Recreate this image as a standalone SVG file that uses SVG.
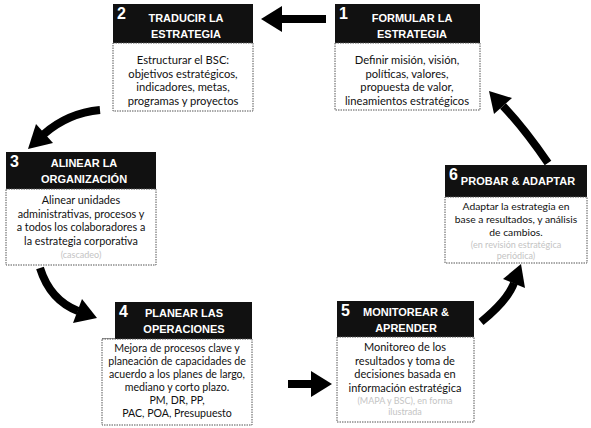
<svg xmlns="http://www.w3.org/2000/svg" width="591" height="428" viewBox="0 0 591 428">
<style>
.hdr{fill:#111;}
.body{fill:#fff;stroke:#555;stroke-width:1;stroke-dasharray:1.5,1;}
.ht{font-family:"Liberation Sans",Arial,sans-serif;font-weight:bold;font-size:11px;fill:#fff;text-anchor:middle;}
.num{font-family:"Liberation Sans",Arial,sans-serif;font-weight:bold;font-size:16px;fill:#fff;}
.bt{font-family:Lato,"Liberation Sans",sans-serif;font-size:11.2px;fill:#111;text-anchor:middle;}
.s3{font-size:10.8px;}
.s4{font-size:10.6px;}
.s5{font-size:11px;}
.s6{font-size:10.3px;}
.faint{fill:#c4c4c4;font-size:9px;}
.shaft{fill:none;stroke:#000;stroke-width:8;}
.head{fill:#000;}
.thin{stroke:#333;stroke-width:1;}
</style>
<rect width="591" height="428" fill="#fff"/>
<g id="connectors">
<path class="shaft" d="M326,19 L280,19"/>
<polygon class="head" points="261,19 282,6 282,32"/>
<path class="shaft" d="M100,110 Q68,113 44,134"/>
<polygon class="head" points="28,149 53,143 36,124"/>
<path class="shaft" d="M40,268 Q50,300 78,311"/>
<polygon class="head" points="97,318 73,323 82,299"/>
<path class="shaft" d="M288,384 L313,384"/>
<polygon class="head" points="332,384 311,371 311,397"/>
<path class="shaft" d="M481,322 Q508,300 514,283"/>
<polygon class="head" points="521,264 525,288 503,279"/>
<path class="shaft" d="M548,163 Q524,128 503,106"/>
<polygon class="head" points="489,91 512,98 494,114"/>
</g>
<g id="node1">
<rect class="hdr" x="335" y="4" width="145" height="39"/>
<text class="num" x="339" y="19">1</text>
<text class="ht" x="412" y="22">FORMULAR LA</text>
<text class="ht" x="412" y="38">ESTRATEGIA</text>
<rect class="body" x="335" y="43" width="145" height="67"/>
<text class="bt" x="407" y="64">Definir misión, visión,</text>
<text class="bt" x="407" y="77.5">políticas, valores,</text>
<text class="bt" x="407" y="91">propuesta de valor,</text>
<text class="bt" x="407" y="104.5">lineamientos estratégicos</text>
</g>
<g id="node2">
<rect class="hdr" x="113" y="4" width="140" height="39"/>
<text class="num" x="117" y="19">2</text>
<text class="ht" x="186" y="22">TRADUCIR LA</text>
<text class="ht" x="186" y="38">ESTRATEGIA</text>
<rect class="body" x="113" y="43" width="140" height="68"/>
<text class="bt" x="183" y="64">Estructurar el BSC:</text>
<text class="bt" x="183" y="77.5">objetivos estratégicos,</text>
<text class="bt" x="183" y="91">indicadores, metas,</text>
<text class="bt" x="183" y="104.5">programas y proyectos</text>
</g>
<g id="node3">
<rect class="hdr" x="6" y="152" width="150" height="37"/>
<text class="num" x="10" y="167">3</text>
<text class="ht" x="84" y="167">ALINEAR LA</text>
<text class="ht" x="84" y="183">ORGANIZACIÓN</text>
<rect class="body" x="6" y="189" width="150" height="76"/>
<text class="bt s3" x="81" y="204">Alinear unidades</text>
<text class="bt s3" x="81" y="217.5">administrativas, procesos y</text>
<text class="bt s3" x="81" y="231">a todos los colaboradores a</text>
<text class="bt s3" x="81" y="244.5">la estrategia corporativa</text>
<text class="bt faint" x="81" y="258">(cascadeo)</text>
</g>
<g id="node6">
<rect class="hdr" x="445" y="165" width="142" height="32"/>
<text class="num" x="449" y="180">6</text>
<text class="ht" x="518" y="185">PROBAR &amp; ADAPTAR</text>
<rect class="body" x="445" y="197" width="142" height="66"/>
<text class="bt s6" x="516" y="210">Adaptar la estrategia en</text>
<text class="bt s6" x="516" y="223">base a resultados, y análisis</text>
<text class="bt s6" x="516" y="236">de cambios.</text>
<text class="bt faint" x="516" y="248">(en revisión estratégica</text>
<text class="bt faint" x="516" y="259">periódica)</text>
</g>
<g id="node4">
<rect class="hdr" x="115" y="302" width="137" height="37"/>
<line class="thin" x1="102" y1="339" x2="115" y2="339"/>
<text class="num" x="119" y="317">4</text>
<text class="ht" x="184" y="317">PLANEAR LAS</text>
<text class="ht" x="184" y="333">OPERACIONES</text>
<rect class="body" x="102" y="339" width="150" height="86"/>
<text class="bt s4" x="177" y="352">Mejora de procesos clave y</text>
<text class="bt s4" x="177" y="365">planeación de capacidades de</text>
<text class="bt s4" x="177" y="378">acuerdo a los planes de largo,</text>
<text class="bt s4" x="177" y="391">mediano y corto plazo.</text>
<text class="bt s4" x="177" y="404">PM, DR, PP,</text>
<text class="bt s4" x="177" y="417">PAC, POA, Presupuesto</text>
</g>
<g id="node5">
<rect class="hdr" x="337" y="301" width="137" height="36"/>
<text class="num" x="341" y="316">5</text>
<text class="ht" x="406" y="316">MONITOREAR &amp;</text>
<text class="ht" x="406" y="332">APRENDER</text>
<rect class="body" x="337" y="337" width="137" height="85"/>
<text class="bt s5" x="405" y="351">Monitoreo de los</text>
<text class="bt s5" x="405" y="364.5">resultados y toma de</text>
<text class="bt s5" x="405" y="378">decisiones basada en</text>
<text class="bt s5" x="405" y="391.5">información estratégica</text>
<text class="bt faint" x="405" y="404">(MAPA y BSC), en forma</text>
<text class="bt faint" x="405" y="415">ilustrada</text>
</g>
</svg>
